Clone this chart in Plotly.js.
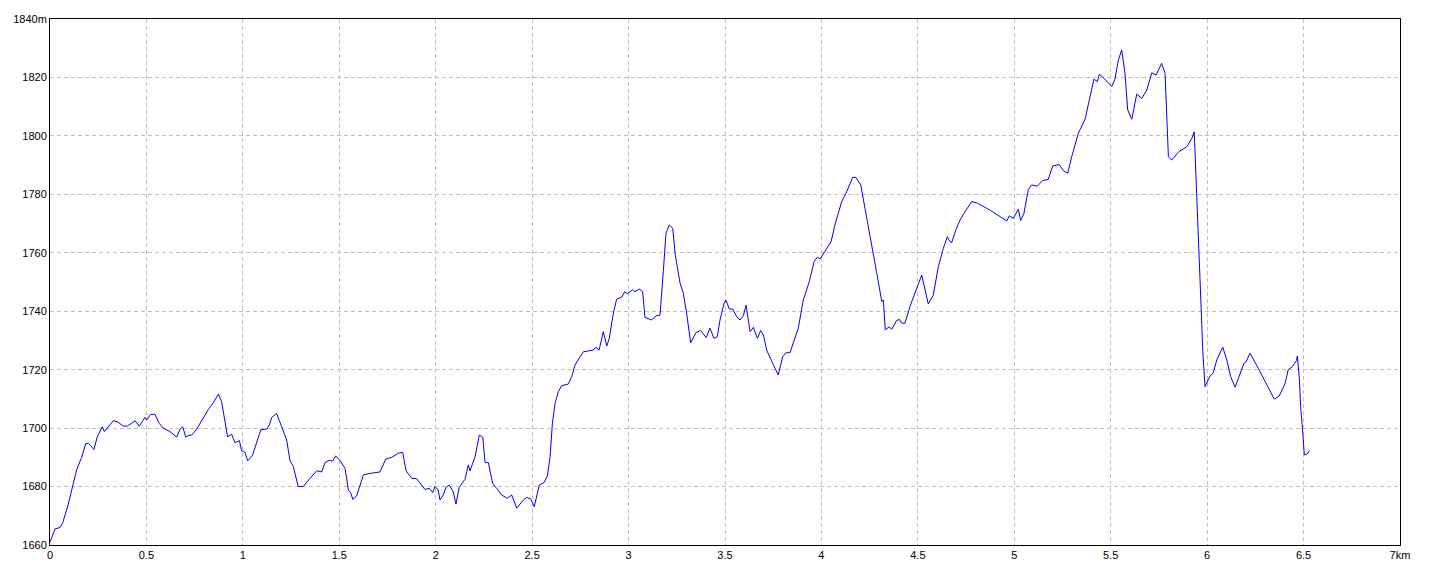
<!DOCTYPE html>
<html>
<head>
<meta charset="utf-8">
<script src="https://cdn.plot.ly/plotly-3.0.1.min.js"></script>
<style>html,body{margin:0;padding:0;background:#fff;}#chart{width:1440px;height:576px;}</style>
</head>
<body>
<div id="chart"></div>
<script>
const distanceKm = [
0,0.026,0.052,0.066,0.095,0.121,0.138,0.164,0.185,0.199,0.228,0.245,0.271,0.282,0.302,0.328,0.349,0.380,0.401,0.441,
0.463,0.493,0.501,0.522,0.544,0.567,0.587,0.622,0.657,0.674,0.688,0.704,0.722,0.735,0.761,0.795,0.821,0.847,0.873,0.890,
0.907,0.921,0.942,0.959,0.982,0.994,1.011,1.025,1.049,1.068,1.093,1.124,1.137,1.150,1.175,1.201,1.227,1.244,1.262,1.287,
1.313,1.348,1.383,1.409,1.426,1.448,1.466,1.481,1.504,1.530,1.547,1.559,1.570,1.590,1.625,1.659,1.711,1.741,1.772,1.806,
1.829,1.846,1.876,1.901,1.919,1.944,1.967,1.984,1.996,2.013,2.022,2.039,2.053,2.070,2.091,2.105,2.122,2.152,2.169,2.178,
2.204,2.226,2.244,2.256,2.273,2.295,2.316,2.342,2.371,2.394,2.420,2.454,2.472,2.493,2.511,2.537,2.561,2.579,2.593,2.605,
2.619,2.636,2.653,2.688,2.705,2.722,2.765,2.817,2.831,2.847,2.869,2.887,2.900,2.921,2.938,2.964,2.981,2.993,3.021,3.033,
3.056,3.073,3.085,3.120,3.142,3.163,3.180,3.194,3.211,3.229,3.241,3.267,3.284,3.301,3.322,3.350,3.374,3.402,3.422,3.443,
3.460,3.474,3.495,3.505,3.522,3.540,3.561,3.578,3.595,3.609,3.630,3.647,3.668,3.685,3.699,3.716,3.747,3.776,3.799,3.816,
3.837,3.858,3.880,3.906,3.937,3.962,3.979,3.993,4.019,4.050,4.070,4.105,4.131,4.162,4.179,4.204,4.226,4.252,4.287,4.313,
4.321,4.331,4.352,4.364,4.390,4.404,4.416,4.433,4.459,4.494,4.520,4.554,4.580,4.606,4.632,4.653,4.661,4.675,4.698,4.719,
4.739,4.779,4.805,4.874,4.961,4.974,4.995,5.021,5.033,5.050,5.073,5.090,5.119,5.147,5.176,5.199,5.233,5.254,5.277,5.298,
5.332,5.367,5.393,5.413,5.431,5.441,5.470,5.505,5.522,5.539,5.557,5.574,5.588,5.609,5.635,5.661,5.687,5.713,5.735,5.747,
5.764,5.782,5.790,5.799,5.816,5.853,5.895,5.921,5.933,5.941,5.954,5.963,5.972,5.977,5.984,5.989,6.015,6.032,6.050,6.081,
6.102,6.122,6.145,6.167,6.191,6.202,6.222,6.265,6.309,6.348,6.374,6.404,6.421,6.442,6.463,6.468,6.478,6.485,6.496,6.504,
6.518,6.531
];
const elevationM = [
1661,1665.5,1666,1667.6,1674,1681,1685.7,1690,1694.6,1694.8,1692.7,1697,1700.5,1698.8,1700.5,1702.5,1702.2,1700.7,1700.7,1702.5,
1700.7,1703.7,1702.8,1704.7,1704.7,1701.6,1700,1698.8,1696.9,1699.6,1700.5,1696.9,1697.6,1697.6,1699.7,1703.4,1706.4,1708.7,1711.6,1709,
1702.8,1697,1697.9,1695,1695.7,1692.2,1691.7,1688.8,1690.5,1694.2,1699.4,1699.7,1701,1703.7,1705,1700.5,1696,1689,1686.8,1680,
1680,1682.8,1685.4,1685,1688.2,1689,1688.7,1690.5,1688.9,1686.2,1678.8,1677.9,1675.6,1676.8,1684,1684.5,1685,1689.4,1690,1691.4,
1691.7,1685.4,1682.8,1682.7,1681,1679,1679.4,1677.9,1680,1678.8,1675.4,1677.1,1679.7,1680.5,1678.2,1674,1679.7,1682.5,1687.4,1685.4,
1690.2,1697.6,1696.9,1688.2,1688.2,1681,1679.4,1677.1,1676,1677.1,1672.6,1675.4,1676.3,1675.7,1673.1,1680.5,1681.3,1683.6,1690.2,1701.6,
1708.5,1712.5,1714.5,1715.1,1717.6,1721.6,1726.1,1726.7,1727.7,1726.7,1733,1728.1,1730.7,1739.3,1744.1,1744.8,1746.7,1745.9,1747.3,1746.7,
1747.6,1746.7,1737.9,1737,1738.4,1738.7,1753.5,1766.7,1769.5,1768.4,1759.8,1749.6,1746.1,1739.3,1729.2,1732.7,1733.4,1731,1734.2,1730.7,
1731.3,1737,1742.7,1743.8,1740.8,1740.7,1738.1,1737,1738.4,1742.1,1733,1734.5,1730.7,1733.4,1731.9,1726.7,1722.2,1718.2,1724.4,1725.8,
1725.8,1729.6,1734.2,1743.8,1750.1,1757,1758.5,1757.9,1760.4,1763.8,1769.5,1777.5,1780.9,1785.8,1785.8,1783.2,1775.2,1766.1,1753,1743.3,
1743.8,1733.6,1734.7,1733.8,1736.8,1737.2,1735.9,1735.9,1741.6,1747.8,1752.4,1742.5,1745.5,1755.2,1761.5,1765.5,1764.4,1763.4,1768,1771.2,
1773.5,1777.5,1777.1,1774.6,1770.9,1772.6,1771.8,1774.9,1771,1773.5,1781.7,1783.2,1782.8,1784.7,1785.1,1789.7,1790.2,1788.1,1787.2,1792.9,
1800.9,1805.7,1814,1819.4,1818.6,1821.1,1819.4,1816.9,1819.4,1825.8,1829.4,1821.4,1808.9,1805.7,1814.3,1812.8,1815.7,1821.6,1820.8,1822.5,
1824.8,1821.4,1806,1792.9,1791.7,1794.6,1796.3,1799.2,1801.4,1788.3,1771.2,1753,1735.9,1726.7,1717.6,1714.2,1717.8,1719,1723.3,1727.7,
1723.3,1717.6,1714,1718.2,1722.2,1722.7,1725.6,1720.5,1714.8,1709.9,1711,1715.3,1720.1,1721,1723.1,1724.7,1717,1707.3,1698.2,1690.8,
1691.1,1692.3
];
const xTickVals = [0,0.5,1,1.5,2,2.5,3,3.5,4,4.5,5,5.5,6,6.5,7];
const xTickText = ['0','0.5','1','1.5','2','2.5','3','3.5','4','4.5','5','5.5','6','6.5','7km'];
const yTickVals = [1660,1680,1700,1720,1740,1760,1780,1800,1820,1840];
const yTickText = ['1660','1680','1700','1720','1740','1760','1780','1800','1820','1840m'];

const axisCommon = {
  showline: true, linecolor: '#000', linewidth: 1, mirror: true,
  showgrid: true, gridcolor: '#c0c0c0', griddash: '4px,3px', gridwidth: 1,
  zeroline: false, ticks: '', tickmode: 'array',
  tickfont: {family: 'Liberation Sans, Arial, sans-serif', size: 11, color: '#000'}
};

Plotly.newPlot('chart', [{
  x: distanceKm, y: elevationM, type: 'scatter', mode: 'lines',
  line: {color: '#0000ff', width: 1}, hoverinfo: 'skip'
}], {
  width: 1440, height: 576,
  margin: {l: 50, r: 40, t: 19, b: 31, pad: 0},
  paper_bgcolor: '#fff', plot_bgcolor: '#fff',
  showlegend: false,
  xaxis: Object.assign({}, axisCommon, {range: [0, 7], tickvals: xTickVals, ticktext: xTickText}),
  yaxis: Object.assign({}, axisCommon, {range: [1660, 1840], tickvals: yTickVals, ticktext: yTickText})
}, {displayModeBar: false, staticPlot: true});
</script>
</body>
</html>
